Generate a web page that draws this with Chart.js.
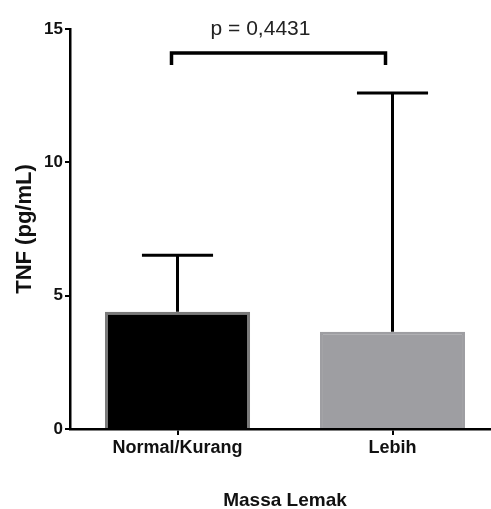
<!DOCTYPE html>
<html>
<head>
<meta charset="utf-8">
<script src="https://cdn.jsdelivr.net/npm/chart.js@4"></script>
<style>
  html, body { margin: 0; padding: 0; background: #fff; overflow: hidden; }
  #wrap { width: 491px; height: 509px; overflow: hidden; }
</style>
</head>
<body>
<div id="wrap"><canvas id="myChart" width="500" height="509"></canvas></div>
<script>
const categories = ['Normal/Kurang', 'Lebih'];
const means = [4.4, 3.65];
const sdUpper = [6.52, 12.6];
const yTicks = [0, 5, 10, 15];
const pLabel = 'p = 0,4431';
const bracketLevel = 14.1;
const bracketDrop = 13.65;

const FONT = '"Liberation Sans", Arial, sans-serif';

// error bars + significance bracket
const extras = {
  id: 'extras',
  afterDatasetsDraw(chart) {
    const ctx = chart.ctx;
    const y = chart.scales.y;
    const x = chart.scales.x;
    const meta = chart.getDatasetMeta(0);
    ctx.save();
    ctx.strokeStyle = '#000';
    ctx.lineWidth = 3;
    ctx.lineCap = 'butt';
    meta.data.forEach((bar, i) => {
      const top = y.getPixelForValue(sdUpper[i]);
      const base = y.getPixelForValue(means[i]);
      const half = bar.width * 0.245;
      ctx.beginPath();
      ctx.moveTo(bar.x, base);
      ctx.lineTo(bar.x, top);
      ctx.moveTo(bar.x - half, top);
      ctx.lineTo(bar.x + half, top);
      ctx.stroke();
    });
    // bracket
    const x1 = x.getPixelForValue(0) - 6;
    const x2 = x.getPixelForValue(1) - 7;
    const yb = y.getPixelForValue(bracketLevel);
    const yd = y.getPixelForValue(bracketDrop);
    ctx.lineWidth = 3.5;
    ctx.beginPath();
    ctx.moveTo(x1, yd);
    ctx.lineTo(x1, yb);
    ctx.lineTo(x2, yb);
    ctx.lineTo(x2, yd);
    ctx.stroke();
    ctx.fillStyle = '#222';
    ctx.font = '21px ' + FONT;
    ctx.textAlign = 'center';
    ctx.textBaseline = 'alphabetic';
    ctx.fillText(pLabel, (x1 + x2) / 2 - 18, yb - 18);
    ctx.restore();
  }
};

const data = {
  labels: categories,
  datasets: [{
    data: means,
    backgroundColor: ['#000000', '#9e9ea2'],
    borderColor: ['#7a7a7a', '#9e9ea2'],
    borderWidth: 3,
    borderSkipped: 'bottom',
    barPercentage: 0.675,
    categoryPercentage: 1
  }]
};

const config = {
  type: 'bar',
  data: data,
  options: {
    responsive: false,
    animation: false,
    layout: { padding: { top: 29, right: 0, left: 0, bottom: 0 } },
    plugins: { legend: { display: false }, tooltip: { enabled: false } },
    scales: {
      x: {
        afterFit(scale) { scale.height = 80; },
        grid: { offset: false, drawOnChartArea: false, color: '#000', lineWidth: 2, tickLength: 6 },
        border: { color: '#000', width: 2.5 },
        ticks: { color: '#111', padding: 2, font: { family: FONT, size: 18, weight: 'bold' } },
        title: { display: true, text: 'Massa Lemak', color: '#111', padding: { top: 0, bottom: -3 }, font: { family: FONT, size: 19, weight: 'bold' } }
      },
      y: {
        min: 0,
        max: 15,
        afterFit(scale) { scale.width = 70; },
        afterBuildTicks(scale) { scale.ticks = yTicks.map(v => ({ value: v })); },
        grid: { drawOnChartArea: false, color: '#000', lineWidth: 2, tickLength: 5 },
        border: { color: '#000', width: 2.5 },
        ticks: { color: '#111', padding: 2, font: { family: FONT, size: 17, weight: 'bold' } },
        title: { display: true, text: 'TNF (pg/mL)', color: '#111', padding: { top: 12, bottom: 0 }, font: { family: FONT, size: 22, weight: 'bold' } }
      }
    }
  },
  plugins: [extras]
};

const myChart = new Chart(document.getElementById('myChart'), config);
</script>
</body>
</html>
